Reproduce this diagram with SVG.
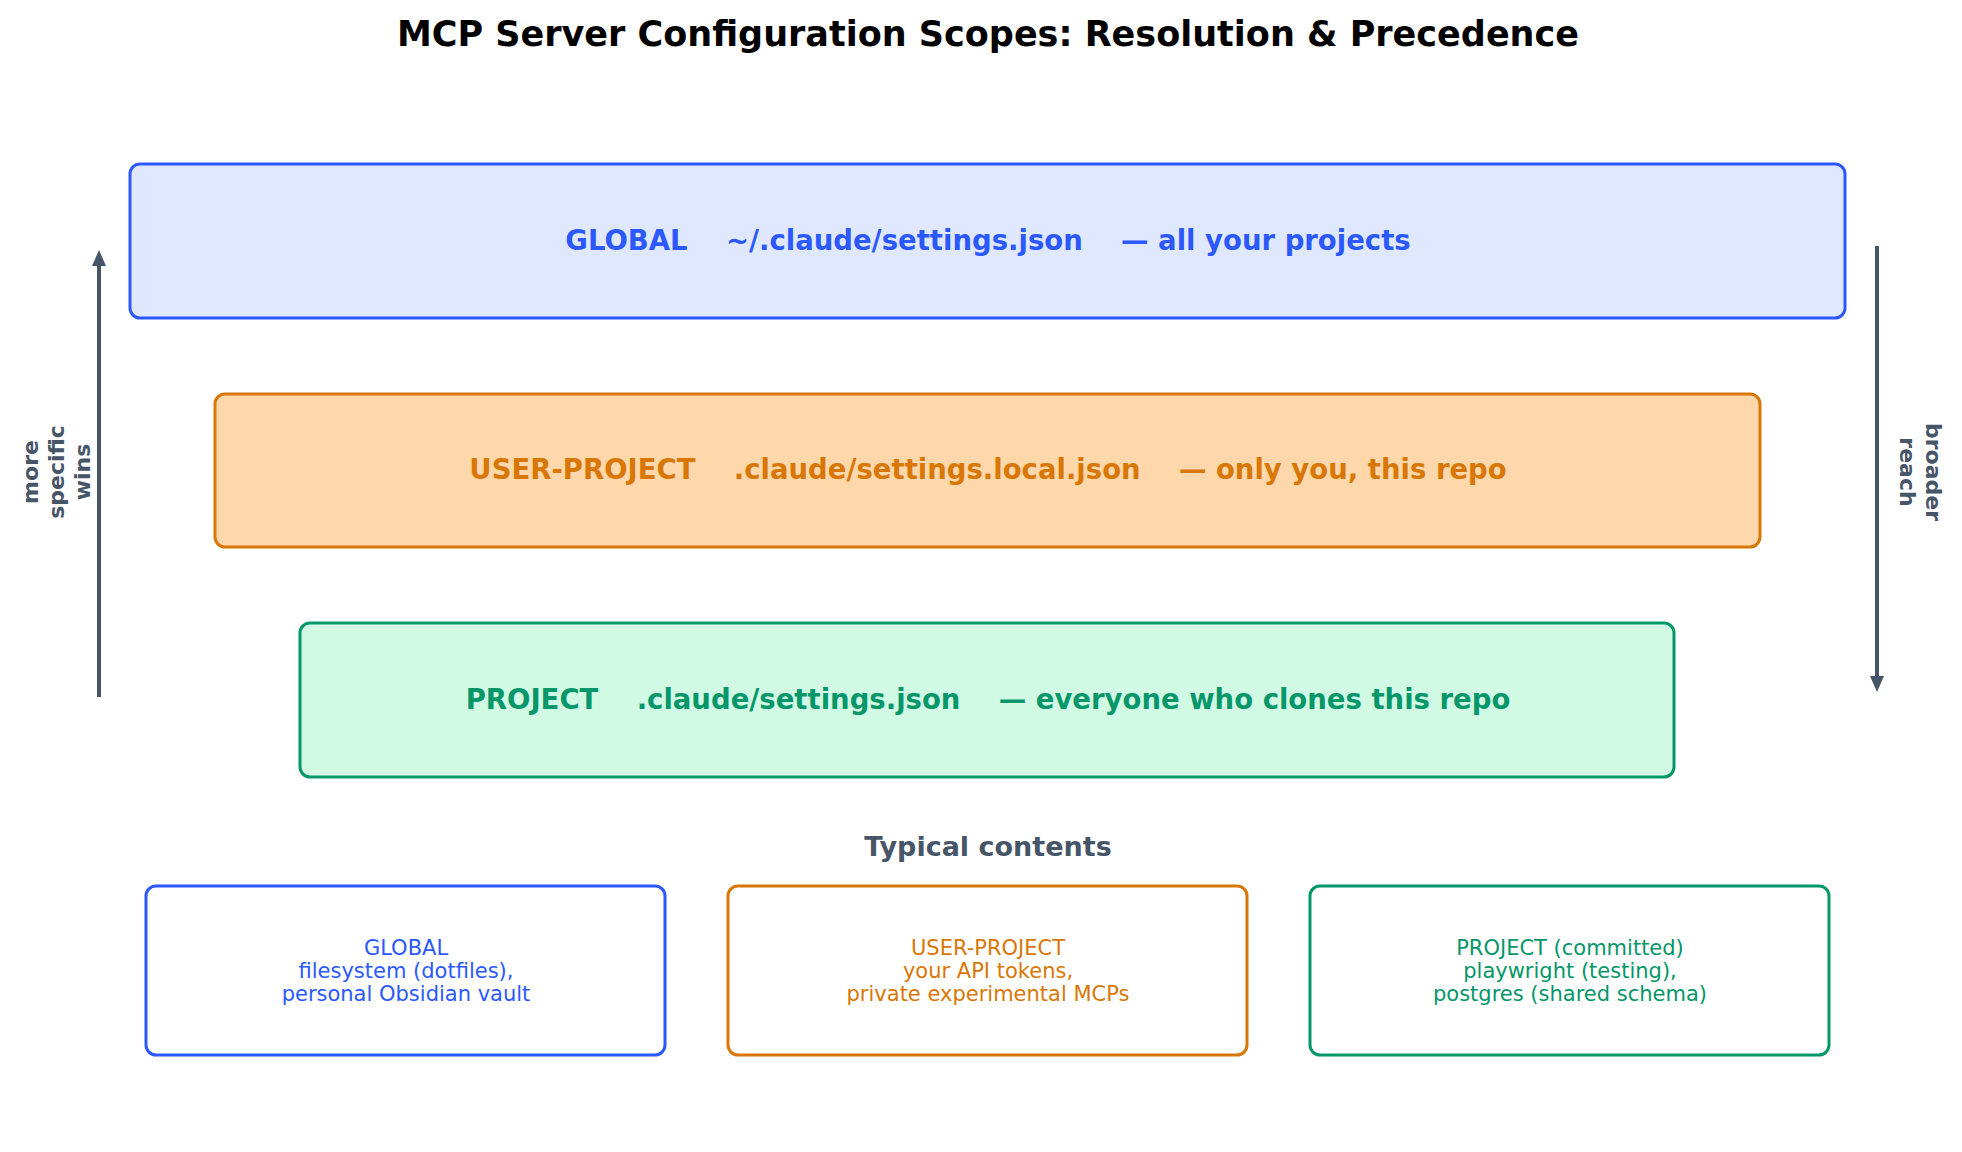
<svg xmlns="http://www.w3.org/2000/svg" width="1962" height="1152" viewBox="0 0 1962 1152">
<style>
text{font-family:"DejaVu Sans",sans-serif;text-anchor:middle}
.t{font-size:27.5px;font-weight:bold}
.s{font-size:21px}
.side{font-size:22px;font-weight:bold;fill:#475569}
.b{fill:#2b59ff}.o{fill:#d97706}.g{fill:#059669}
</style>
<defs>
<marker id="ah" markerWidth="16" markerHeight="18" refX="8" refY="9" orient="auto" markerUnits="userSpaceOnUse"><path d="M0,2L16,9L0,16z" fill="#475569"/></marker>
</defs>
<rect width="1962" height="1152" fill="#fff"/>
<text x="988" y="46" style="font-size:35px;font-weight:bold" fill="#000">MCP Server Configuration Scopes: Resolution &amp; Precedence</text>
<g id="global"><rect x="130" y="164" width="1715" height="154" rx="10" fill="#e0e8ff" stroke="#2b59ff" stroke-width="3"/>
<text x="988" y="250" class="t b" xml:space="preserve">GLOBAL    ~/.claude/settings.json    — all your projects</text></g>
<g id="userproject"><rect x="215" y="394" width="1545" height="153" rx="10" fill="#fed7aa" stroke="#d97706" stroke-width="3"/>
<text x="988" y="479" class="t o" xml:space="preserve">USER-PROJECT    .claude/settings.local.json    — only you, this repo</text></g>
<g id="project"><rect x="300" y="623" width="1374" height="154" rx="10" fill="#d1fae5" stroke="#059669" stroke-width="3"/>
<text x="988" y="709" class="t g" xml:space="preserve">PROJECT    .claude/settings.json    — everyone who clones this repo</text></g>
<text x="988" y="856" style="font-size:27px;font-weight:bold" fill="#475569">Typical contents</text>
<g id="c-global"><rect x="146" y="886" width="519" height="169" rx="10" fill="#fff" stroke="#2b59ff" stroke-width="3"/>
<text class="s b"><tspan x="406" y="955">GLOBAL</tspan><tspan x="406" y="978">filesystem (dotfiles),</tspan><tspan x="406" y="1001">personal Obsidian vault</tspan></text></g>
<g id="c-user"><rect x="728" y="886" width="519" height="169" rx="10" fill="#fff" stroke="#d97706" stroke-width="3"/>
<text class="s o"><tspan x="988" y="955">USER-PROJECT</tspan><tspan x="988" y="978">your API tokens,</tspan><tspan x="988" y="1001">private experimental MCPs</tspan></text></g>
<g id="c-project"><rect x="1310" y="886" width="519" height="169" rx="10" fill="#fff" stroke="#059669" stroke-width="3"/>
<text class="s g"><tspan x="1570" y="955">PROJECT (committed)</tspan><tspan x="1570" y="978">playwright (testing),</tspan><tspan x="1570" y="1001">postgres (shared schema)</tspan></text></g>
<g id="connectors" stroke="#475569" stroke-width="4" fill="none">
<line x1="99" y1="697" x2="99" y2="258" marker-end="url(#ah)"/>
<line x1="1877" y1="246" x2="1877" y2="684" marker-end="url(#ah)"/>
</g>
<text class="side" transform="translate(38,472) rotate(-90)"><tspan x="0" y="0">more</tspan><tspan x="0" y="26">specific</tspan><tspan x="0" y="52">wins</tspan></text>
<text class="side" transform="translate(1926,472) rotate(90)"><tspan x="0" y="0">broader</tspan><tspan x="0" y="26">reach</tspan></text>
</svg>
